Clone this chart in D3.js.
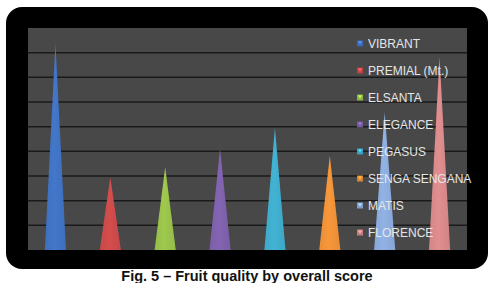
<!DOCTYPE html>
<html><head><meta charset="utf-8">
<script src="https://cdn.jsdelivr.net/npm/d3@7"></script>
<style>html,body{margin:0;padding:0;background:#fff;}svg{display:block;}</style>
</head><body>
<svg id="c" width="492" height="283"></svg>
<script>
const categories = ["VIBRANT","PREMIAL (Mt.)","ELSANTA","ELEGANCE","PEGASUS","SENGA SENGANA","MATIS","FLORENCE"];
const values = [8.38, 2.95, 3.35, 4.1, 4.95, 3.82, 5.57, 7.81];
const colors = ["#4274c6","#d04b4b","#9cc54c","#8062ae","#41afd0","#f39439","#8eaee0","#dc8b8c"];
const yTicks = [0,1,2,3,4,5,6,7,8,9];
const caption = "Fig. 5 \u2013 Fruit quality by overall score";

const svg = d3.select("#c");
const defs = svg.append("defs");

// outer black rounded frame
svg.append("rect").attr("x",6).attr("y",7).attr("width",482).attr("height",262).attr("rx",16).attr("fill","#000");

const plot = {l:28, t:28, r:467, b:250};
svg.append("rect").attr("x",plot.l).attr("y",plot.t).attr("width",plot.r-plot.l).attr("height",plot.b-plot.t).attr("fill","#484848");

const x = d3.scaleBand().domain(categories).range([plot.l, plot.r]).padding(0);
const y = d3.scaleLinear().domain([0, 9]).range([plot.b, plot.t]);

// gridlines
svg.append("g").selectAll("line").data(yTicks.filter(t=>t>0 && t<9)).join("line")
  .attr("x1",plot.l).attr("x2",plot.r)
  .attr("y1",d=>y(d)).attr("y2",d=>y(d))
  .attr("stroke","#1a1a1a").attr("stroke-width",1.5);

// gradients
colors.forEach((c,i)=>{
  const g = defs.append("linearGradient").attr("id","g"+i).attr("x1","0").attr("x2","1").attr("y1","0").attr("y2","0");
  const base = d3.color(c);
  g.append("stop").attr("offset","0%").attr("stop-color",base.darker(0.12));
  g.append("stop").attr("offset","45%").attr("stop-color",base.brighter(0.06));
  g.append("stop").attr("offset","100%").attr("stop-color",base.darker(0.15));
});

// cones
const w = x.bandwidth()*0.385;
svg.append("g").selectAll("path").data(categories).join("path")
  .attr("d",(d,i)=>{
    const cx = x(d)+x.bandwidth()/2;
    return `M${cx-w/2},${y(0)}L${cx},${y(values[i])}L${cx+w/2},${y(0)}Z`;
  })
  .attr("fill",(d,i)=>`url(#g${i})`);

// legend (on top of cones, as in reference)
const leg = svg.append("g");
const legY = d3.scalePoint().domain(categories).range([43.5, 232.5]);
const li = leg.selectAll("g").data(categories).join("g")
  .attr("transform",d=>`translate(357,${legY(d)})`);
li.append("rect").attr("x",0).attr("y",-3).attr("width",6).attr("height",6)
  .attr("fill",(d,i)=>d3.color(colors[i]).darker(0.3));
li.append("path").attr("d","M0.8,-2.2L5.2,-2.2L3,1.5Z").attr("fill",(d,i)=>d3.color(colors[i]).brighter(0.6));
li.append("text").attr("x",11).attr("y",4.2).text(d=>d)
  .attr("font-family","'Liberation Sans', Arial, sans-serif").attr("font-size",12).attr("fill","#e6e6e6");

// caption
svg.append("text").attr("x",247).attr("y",280.5).attr("text-anchor","middle")
  .attr("font-family","'Liberation Sans', Arial, sans-serif").attr("font-weight","bold").attr("font-size",14.5)
  .attr("fill","#111").text(caption);
</script>
</body></html>
